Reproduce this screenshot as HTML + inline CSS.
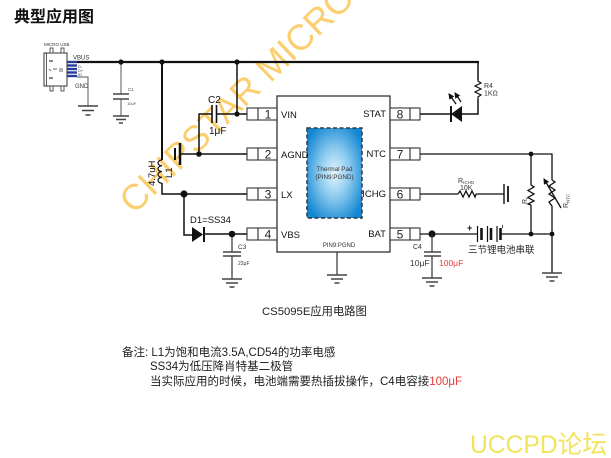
<!DOCTYPE html>
<html><head><meta charset="utf-8"><style>
html,body{margin:0;padding:0;background:#fff;}
svg{display:block;}
text{font-family:"Liberation Sans","Noto Sans CJK SC",sans-serif;}
</style></head><body>
<svg width="611" height="458" viewBox="0 0 611 458" xmlns="http://www.w3.org/2000/svg">
<defs>
<radialGradient id="pad" cx="50%" cy="50%" r="60%">
<stop offset="0" stop-color="#e6f4fc"/>
<stop offset="0.45" stop-color="#8ccbef"/>
<stop offset="1" stop-color="#1487d2"/>
</radialGradient>
<marker id="ah" markerWidth="6" markerHeight="6" refX="5" refY="3" orient="auto" markerUnits="userSpaceOnUse">
<path d="M0,0 L6,3 L0,6 z" fill="#111"/>
</marker>
</defs>

<!-- watermark -->
<text x="134" y="215" transform="rotate(-44 134 215)" font-size="36" fill="#fbcf70">CHIPSTAR MICRO</text>

<!-- title -->
<text x="14" y="22" font-size="16" font-weight="bold" fill="#111">典型应用图</text>

<!-- USB connector -->
<text x="44" y="46" font-size="4.5" fill="#333">MICRO USB</text>
<rect x="44" y="53" width="23" height="33" fill="#fff" stroke="#333" stroke-width="1"/>
<line x1="46.5" y1="53" x2="46.5" y2="86" stroke="#333" stroke-width="0.8"/>
<rect x="50" y="48" width="3" height="5" fill="#fff" stroke="#333" stroke-width="0.8"/>
<rect x="61" y="48" width="3" height="5" fill="#fff" stroke="#333" stroke-width="0.8"/>
<rect x="50" y="86" width="3" height="5" fill="#fff" stroke="#333" stroke-width="0.8"/>
<rect x="61" y="86" width="3" height="5" fill="#fff" stroke="#333" stroke-width="0.8"/>
<line x1="49" y1="61" x2="53" y2="61" stroke="#333" stroke-width="1.2"/>
<line x1="49" y1="78" x2="53" y2="78" stroke="#333" stroke-width="1.2"/>
<path d="M49,69 L51,71 M53,69 L57,69 M60,68 L60,72 M62,68 L62,72" stroke="#333" stroke-width="0.7" fill="none"/>
<g stroke="#2b3a9a" stroke-width="2.4">
<line x1="67" y1="62" x2="77" y2="62"/>
<line x1="67" y1="65.5" x2="77" y2="65.5"/>
<line x1="67" y1="69" x2="77" y2="69"/>
<line x1="67" y1="72.5" x2="77" y2="72.5"/>
<line x1="67" y1="76" x2="77" y2="76"/>
</g>
<text x="78" y="68" font-size="4" fill="#333">D-</text>
<text x="78" y="72" font-size="4" fill="#333">D+</text>
<text x="78" y="76" font-size="4" fill="#333">ID</text>
<text x="73" y="59.5" font-size="6" fill="#333">VBUS</text>
<text x="75" y="88" font-size="6" fill="#333">GND</text>
<path d="M77,77 L88,77 L88,106" stroke="#555" stroke-width="1" fill="none"/>
<g stroke="#444" stroke-width="1.5">
<line x1="78" y1="106" x2="98" y2="106"/><line x1="82" y1="110.5" x2="94" y2="110.5"/><line x1="85.5" y1="115" x2="90.5" y2="115"/>
</g>

<!-- top bus -->
<line x1="77" y1="62" x2="479" y2="62" stroke="#111" stroke-width="2.2"/>

<!-- C1 -->
<path d="M121,62 L121,94 M121,99 L121,116" stroke="#555" stroke-width="1" fill="none"/>
<g stroke="#444" stroke-width="1.5">
<line x1="113" y1="94" x2="129" y2="94"/><line x1="113" y1="99" x2="129" y2="99"/>
<line x1="113" y1="116" x2="129" y2="116"/><line x1="116" y1="119.5" x2="126" y2="119.5"/><line x1="119" y1="123" x2="123" y2="123"/>
</g>
<text x="128" y="91" font-size="4.5" fill="#444">C1</text>
<text x="127" y="105" font-size="4" fill="#444">10uF</text>

<!-- inductor branch -->
<line x1="162" y1="62" x2="162" y2="160" stroke="#111" stroke-width="2"/>
<path d="M162,160 a4,2.9 0 0 0 0,5.8 a4,2.9 0 0 0 0,5.8 a4,2.9 0 0 0 0,5.8 a4,2.9 0 0 0 0,5.8" stroke="#111" stroke-width="1.2" fill="none"/>
<path d="M162,183 L162,194 L247,194" stroke="#111" stroke-width="1.5" fill="none"/>
<text transform="translate(155 186) rotate(-90)" font-size="9.5" fill="#111">4.7uH</text>
<text transform="translate(172 178) rotate(-90)" font-size="9.5" fill="#111">L1</text>

<!-- C2 / VIN -->
<line x1="237" y1="62" x2="237" y2="114" stroke="#111" stroke-width="1.5"/>
<path d="M247,114 L217,114 M212,114 L199,114 L199,154 L247,154 M199,154 L181,154" stroke="#111" stroke-width="1.5" fill="none"/>
<line x1="212" y1="105" x2="212" y2="123" stroke="#111" stroke-width="1.6"/>
<line x1="216.5" y1="105" x2="216.5" y2="123" stroke="#111" stroke-width="1.6"/>
<text x="208" y="103" font-size="10" fill="#111">C2</text>
<text x="209" y="134" font-size="10" fill="#111">1μF</text>
<line x1="175" y1="148" x2="175" y2="160" stroke="#111" stroke-width="2"/>
<line x1="180" y1="143" x2="180" y2="165" stroke="#111" stroke-width="2.5"/>

<!-- D1 / VBS -->
<path d="M184,194 L184,235 L192,235 M204,234 L247,234" stroke="#111" stroke-width="1.5" fill="none"/>
<path d="M192,227 L203,234.5 L192,242 z" fill="#111"/>
<line x1="204" y1="227" x2="204" y2="242" stroke="#111" stroke-width="2"/>
<text x="190" y="223" font-size="9.5" fill="#111">D1=SS34</text>
<path d="M232,234 L232,252 M232,256 L232,279" stroke="#333" stroke-width="1.2" fill="none"/>
<g stroke="#444" stroke-width="1.5">
<line x1="223" y1="252" x2="241" y2="252"/><line x1="223" y1="256" x2="241" y2="256"/>
<line x1="222" y1="279" x2="242" y2="279"/><line x1="226" y1="283" x2="238" y2="283"/><line x1="229.5" y1="287" x2="234.5" y2="287"/>
</g>
<text x="238" y="249" font-size="6.5" fill="#333">C3</text>
<text x="238" y="265" font-size="5" fill="#333">22μF</text>

<!-- junctions -->
<g fill="#111">
<circle cx="121" cy="62" r="2.6"/><circle cx="162" cy="62" r="2.6"/><circle cx="237" cy="62" r="2.6"/>
<circle cx="237" cy="114" r="2.6"/><circle cx="199" cy="154" r="2.8"/><circle cx="184" cy="194" r="3.6"/>
<circle cx="232" cy="234" r="3.3"/><circle cx="432" cy="234" r="3.6"/>
<circle cx="531" cy="154" r="2.4"/><circle cx="531" cy="234" r="2.4"/><circle cx="552" cy="234" r="2.4"/>
</g>

<!-- IC -->
<rect x="277" y="96" width="113" height="156" fill="#fff" stroke="#333" stroke-width="1.3"/>
<rect x="307" y="128" width="55" height="90" fill="url(#pad)" stroke="#2a3a4a" stroke-width="1.5" stroke-dasharray="4 2.5"/>
<text x="334.5" y="171" font-size="6.3" fill="#333" text-anchor="middle">Thermal Pad</text>
<text x="334.5" y="179" font-size="6.3" fill="#333" text-anchor="middle">(PIN9:PGND)</text>
<text x="339" y="247" font-size="6" fill="#333" text-anchor="middle">PIN9:PGND</text>

<!-- pins -->
<g stroke="#333" stroke-width="1.1" fill="#fff">
<rect x="247" y="108" width="11" height="12"/><rect x="258" y="108" width="19" height="12"/>
<rect x="247" y="148" width="11" height="12"/><rect x="258" y="148" width="19" height="12"/>
<rect x="247" y="188" width="11" height="12"/><rect x="258" y="188" width="19" height="12"/>
<rect x="247" y="228" width="11" height="12"/><rect x="258" y="228" width="19" height="12"/>
<rect x="390" y="108" width="20" height="12"/><rect x="410" y="108" width="10" height="12"/>
<rect x="390" y="148" width="20" height="12"/><rect x="410" y="148" width="10" height="12"/>
<rect x="390" y="188" width="20" height="12"/><rect x="410" y="188" width="10" height="12"/>
<rect x="390" y="228" width="20" height="12"/><rect x="410" y="228" width="10" height="12"/>
</g>
<g font-size="12" fill="#222" text-anchor="middle">
<text x="268" y="118.5">1</text><text x="268" y="158.5">2</text><text x="268" y="198.5">3</text><text x="268" y="238.5">4</text>
<text x="400" y="118.5">8</text><text x="400" y="158.5">7</text><text x="400" y="198.5">6</text><text x="400" y="238.5">5</text>
</g>
<g font-size="9.5" fill="#111">
<text x="281" y="118">VIN</text><text x="281" y="158">AGND</text><text x="281" y="198">LX</text><text x="281" y="238">VBS</text>
</g>
<g font-size="9.5" fill="#111" text-anchor="end">
<text x="386" y="117">STAT</text><text x="386" y="157">NTC</text><text x="386" y="197">ICHG</text><text x="386" y="237">BAT</text>
</g>

<!-- IC ground -->
<line x1="337" y1="252" x2="337" y2="275" stroke="#333" stroke-width="1.2"/>
<g stroke="#444" stroke-width="1.5">
<line x1="327" y1="275" x2="347" y2="275"/><line x1="331" y1="279" x2="343" y2="279"/><line x1="334.5" y1="283" x2="339.5" y2="283"/>
</g>

<!-- STAT / LED / R4 -->
<path d="M420,114 L451,114 M462,114 L478,114 L478,99 M478,80 L478,62" stroke="#111" stroke-width="1.5" fill="none"/>
<path d="M478,99 L478,97 L481,95 L475,92 L481,89 L475,86 L481,83 L478,81 L478,80" stroke="#111" stroke-width="1.2" fill="none"/>
<path d="M462,106 L451,114 L462,122 z" fill="#111"/>
<line x1="451" y1="106" x2="451" y2="122" stroke="#111" stroke-width="2"/>
<line x1="456" y1="104" x2="449" y2="94" stroke="#111" stroke-width="1.3" marker-end="url(#ah)"/>
<line x1="461" y1="102" x2="455" y2="93" stroke="#111" stroke-width="1.3" marker-end="url(#ah)"/>
<text x="484" y="88" font-size="7" fill="#333">R4</text>
<text x="484" y="95.5" font-size="7" fill="#333">1KΩ</text>

<!-- NTC -->
<path d="M420,154 L552,154 L552,180 M552,206 L552,273 M531,154 L531,185 M531,205 L531,234" stroke="#111" stroke-width="1.3" fill="none"/>
<path d="M531,185 L534,187 L528,190.5 L534,194 L528,197.5 L534,201 L528,204 L531,205" stroke="#111" stroke-width="1.3" fill="none"/>
<path d="M552,180 L555,182 L549,186 L555,190 L549,194 L555,198 L549,202 L552,206" stroke="#111" stroke-width="1.3" fill="none"/>
<line x1="561" y1="208" x2="544" y2="179" stroke="#111" stroke-width="1.3" marker-end="url(#ah)"/>
<text transform="translate(527 204) rotate(-90)" font-size="7" fill="#333">R<tspan font-size="4.5" dy="1.5">t</tspan></text>
<text transform="translate(568 208) rotate(-90)" font-size="7" fill="#333">R<tspan font-size="4.5" dy="1.5">NTC</tspan></text>

<!-- ICHG -->
<path d="M420,194 L458,194 M476,194 L504,194" stroke="#111" stroke-width="1.3" fill="none"/>
<path d="M458,194 L460,191 L463,197 L466,191 L469,197 L472,191 L475,197 L476,194" stroke="#111" stroke-width="1.3" fill="none"/>
<line x1="504" y1="184" x2="504" y2="204" stroke="#111" stroke-width="1.4"/>
<line x1="508" y1="186" x2="508" y2="202" stroke="#111" stroke-width="1.8"/>
<text x="458" y="183" font-size="7" fill="#333">R<tspan font-size="4.5" dy="1">ICHG</tspan></text>
<text x="460" y="190" font-size="7" fill="#333">10K</text>

<!-- BAT -->
<path d="M420,234 L477,234 M501,234 L552,234" stroke="#111" stroke-width="1.3" fill="none"/>
<g stroke="#111">
<line x1="477.5" y1="226" x2="477.5" y2="242" stroke-width="1.2"/>
<line x1="481.5" y1="228" x2="481.5" y2="240" stroke-width="2.6"/>
<line x1="487.5" y1="226" x2="487.5" y2="242" stroke-width="1.2"/>
<line x1="491" y1="228" x2="491" y2="240" stroke-width="2.6"/>
<line x1="497" y1="226" x2="497" y2="242" stroke-width="1.2"/>
<line x1="500.5" y1="228" x2="500.5" y2="240" stroke-width="2.6"/>
<line x1="502.5" y1="225" x2="502.5" y2="228" stroke-width="0.8"/>
</g>
<text x="467" y="231" font-size="9" fill="#111" font-weight="bold">+</text>
<text x="468" y="253" font-size="9.5" fill="#222">三节锂电池串联</text>
<g stroke="#444" stroke-width="1.5">
<line x1="542" y1="273" x2="562" y2="273"/><line x1="546" y1="277" x2="558" y2="277"/><line x1="549.5" y1="281" x2="554.5" y2="281"/>
</g>

<!-- C4 -->
<path d="M432,234 L432,252 M432,256 L432,278" stroke="#333" stroke-width="1.2" fill="none"/>
<g stroke="#444" stroke-width="1.5">
<line x1="424" y1="252" x2="441" y2="252"/><line x1="424" y1="256" x2="441" y2="256"/>
<line x1="422" y1="278" x2="442" y2="278"/><line x1="426" y1="282" x2="438" y2="282"/><line x1="429.5" y1="286" x2="434.5" y2="286"/>
</g>
<text x="413" y="249" font-size="7" fill="#333">C4</text>
<text x="410" y="266" font-size="8.5" fill="#333">10μF</text>
<text x="439" y="266" font-size="8.5" fill="#e83a3a">100μF</text>

<!-- caption -->
<text x="262" y="315" font-size="11.3" fill="#222">CS5095E应用电路图</text>

<!-- notes -->
<g font-size="11.5" fill="#222">
<text x="122" y="356">备注: L1为饱和电流3.5A,CD54的功率电感</text>
<text x="150" y="370">SS34为低压降肖特基二极管</text>
<text x="150" y="385">当实际应用的时候，电池端需要热插拔操作，C4电容接<tspan fill="#e83a3a">100μF</tspan></text>
</g>

<!-- UCCPD -->
<text x="470" y="453" font-size="25" fill="#f2e35c" textLength="137" lengthAdjust="spacingAndGlyphs">UCCPD论坛</text>
</svg>
</body></html>
